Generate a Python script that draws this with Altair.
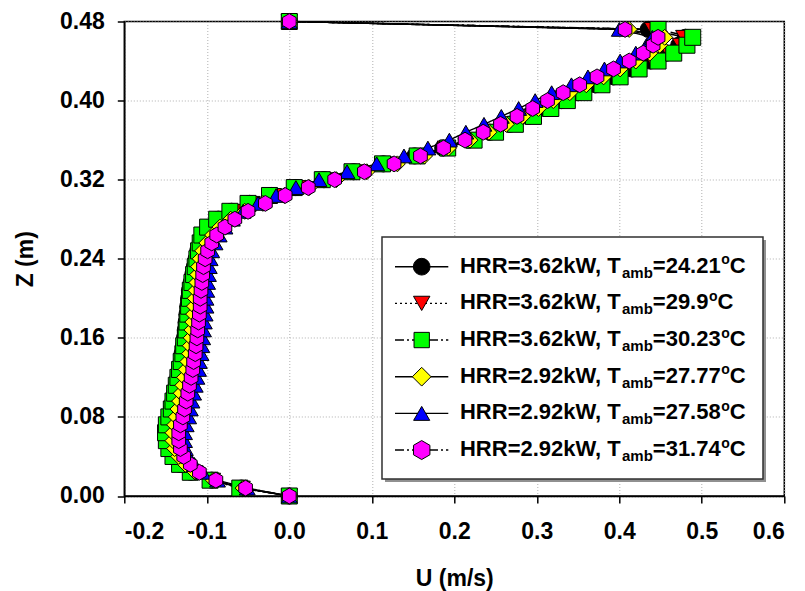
import altair as alt
import pandas as pd

# ---------------- data ----------------
Z = [0.000, 0.008, 0.016, 0.024, 0.032, 0.040, 0.048, 0.056, 0.064, 0.072,
     0.080, 0.088, 0.096, 0.104, 0.112, 0.120, 0.128, 0.136, 0.144, 0.152,
     0.160, 0.168, 0.176, 0.184, 0.192, 0.200, 0.208, 0.216, 0.224, 0.232,
     0.240, 0.248, 0.256, 0.264, 0.272, 0.280, 0.288, 0.296, 0.304, 0.312,
     0.320, 0.328, 0.336, 0.344, 0.352, 0.360, 0.368, 0.376, 0.384, 0.392,
     0.400, 0.408, 0.416, 0.424, 0.432, 0.440, 0.448, 0.456, 0.464, 0.472,
     0.480]

U_BLACK = [0.000, -0.058, -0.094, -0.119, -0.132, -0.140, -0.145, -0.148, -0.149, -0.148,
           -0.145, -0.143, -0.141, -0.139, -0.137, -0.135, -0.133, -0.131, -0.130, -0.128,
           -0.127, -0.126, -0.125, -0.124, -0.123, -0.122, -0.121, -0.119, -0.117, -0.115,
           -0.113, -0.111, -0.108, -0.104, -0.097, -0.086, -0.070, -0.048, -0.022, 0.008,
           0.042, 0.078, 0.114, 0.152, 0.186, 0.217, 0.243, 0.267, 0.289, 0.310,
           0.330, 0.350, 0.371, 0.393, 0.415, 0.437, 0.457, 0.472, 0.480, 0.435,
           0.000]

U_RED = [0.000, -0.057, -0.093, -0.117, -0.130, -0.138, -0.143, -0.146, -0.147, -0.146,
         -0.144, -0.141, -0.139, -0.137, -0.135, -0.133, -0.131, -0.129, -0.128, -0.126,
         -0.125, -0.124, -0.123, -0.122, -0.121, -0.120, -0.119, -0.117, -0.115, -0.113,
         -0.111, -0.109, -0.106, -0.101, -0.094, -0.083, -0.067, -0.045, -0.019, 0.011,
         0.045, 0.081, 0.117, 0.155, 0.189, 0.220, 0.246, 0.270, 0.292, 0.313,
         0.333, 0.353, 0.374, 0.396, 0.418, 0.440, 0.460, 0.474, 0.478, 0.440,
         0.000]

U_GREEN = [0.000, -0.060, -0.096, -0.120, -0.133, -0.141, -0.146, -0.149, -0.150, -0.149,
           -0.146, -0.143, -0.141, -0.139, -0.137, -0.135, -0.133, -0.131, -0.129, -0.128,
           -0.126, -0.125, -0.124, -0.123, -0.122, -0.121, -0.120, -0.118, -0.116, -0.114,
           -0.112, -0.110, -0.108, -0.106, -0.099, -0.088, -0.072, -0.050, -0.024, 0.006,
           0.040, 0.076, 0.113, 0.155, 0.192, 0.224, 0.250, 0.274, 0.296, 0.317,
           0.337, 0.357, 0.379, 0.401, 0.424, 0.447, 0.466, 0.482, 0.489, 0.447,
           0.000]

U_YELLOW = [0.000, -0.056, -0.092, -0.114, -0.126, -0.134, -0.139, -0.141, -0.141, -0.139,
            -0.137, -0.135, -0.133, -0.131, -0.129, -0.127, -0.125, -0.123, -0.121, -0.120,
            -0.119, -0.118, -0.117, -0.116, -0.115, -0.114, -0.113, -0.112, -0.111, -0.110,
            -0.108, -0.105, -0.100, -0.093, -0.084, -0.071, -0.054, -0.032, -0.006, 0.024,
            0.057, 0.094, 0.131, 0.164, 0.193, 0.219, 0.242, 0.263, 0.283, 0.302,
            0.320, 0.340, 0.360, 0.381, 0.401, 0.420, 0.437, 0.449, 0.455, 0.412,
            0.000]

U_BLUE = [0.000, -0.051, -0.087, -0.105, -0.115, -0.122, -0.126, -0.127, -0.127, -0.125,
          -0.122, -0.120, -0.118, -0.116, -0.114, -0.112, -0.110, -0.109, -0.107, -0.106,
          -0.105, -0.104, -0.103, -0.102, -0.101, -0.101, -0.100, -0.099, -0.098, -0.097,
          -0.096, -0.094, -0.090, -0.085, -0.078, -0.069, -0.056, -0.038, -0.016, 0.008,
          0.036, 0.070, 0.106, 0.139, 0.168, 0.194, 0.214, 0.236, 0.257, 0.278,
          0.298, 0.318, 0.342, 0.362, 0.382, 0.401, 0.420, 0.433, 0.440, 0.400,
          0.000]

U_PINK = [0.000, -0.053, -0.089, -0.109, -0.120, -0.128, -0.132, -0.134, -0.134, -0.132,
          -0.129, -0.127, -0.125, -0.123, -0.121, -0.119, -0.117, -0.116, -0.114, -0.113,
          -0.112, -0.111, -0.110, -0.109, -0.108, -0.108, -0.107, -0.106, -0.105, -0.104,
          -0.102, -0.099, -0.094, -0.088, -0.078, -0.066, -0.050, -0.029, -0.005, 0.023,
          0.055, 0.091, 0.127, 0.159, 0.187, 0.213, 0.235, 0.256, 0.276, 0.295,
          0.313, 0.332, 0.352, 0.373, 0.393, 0.412, 0.429, 0.441, 0.447, 0.407,
          0.000]

HRR = ["3.62", "3.62", "3.62", "2.92", "2.92", "2.92"]
TAMB = ["24.21", "29.9", "30.23", "27.77", "27.58", "31.74"]
U_ALL = [U_BLACK, U_RED, U_GREEN, U_YELLOW, U_BLUE, U_PINK]

X_TICKS = [-0.2, -0.1, 0.0, 0.1, 0.2, 0.3, 0.4, 0.5, 0.6]
Y_TICKS = [0.00, 0.08, 0.16, 0.24, 0.32, 0.40, 0.48]

# ---------------- styles ----------------
HEX = "M0,-1L0.866,-0.5L0.866,0.5L0,1L-0.866,0.5L-0.866,-0.5Z"
FILLS = ["#000000", "#ff0000", "#00ff00", "#ffff00", "#0000ff", "#ff00ff"]
SHAPES = ["circle", "triangle-down", "square", "diamond", "triangle-up", HEX]
SIZES = [260, 250, 215, 330, 240, 340]
DASHES = [[1, 0], [2, 3], [9, 3, 2, 3], [1, 0], [1, 0], [9, 3, 2, 3]]
FONT = "Liberation Sans"

names = [f"HRR={h}kW, Tamb={t}°C" for h, t in zip(HRR, TAMB)]

rows = []
for name, us in zip(names, U_ALL):
    for z, u in zip(Z, us):
        rows.append({"series": name, "u": u, "z": z})
df = pd.DataFrame(rows)

W, H = 660, 474.5
OX, OY = 124.3, 21.5  # page position of plot origin

xs = alt.Scale(domain=[-0.2, 0.6], nice=False, zero=False)
ys = alt.Scale(domain=[0, 0.48], nice=False, zero=False)

axis_common = dict(
    labelFont=FONT, labelFontWeight="bold", labelFontSize=23, labelColor="black",
    titleFont=FONT, titleFontWeight="bold", titleFontSize=23, titleColor="black",
    tickColor="black", tickWidth=1.5, tickSize=7,
    domainColor="black", domainWidth=1.5,
    grid=True, gridColor="#b0b0b0", gridDash=[1, 2], gridWidth=1,
)

x_axis = alt.Axis(
    values=X_TICKS,
    labelExpr="datum.value < -0.0001 ? '-' + format(-datum.value, '.1f') : format(abs(datum.value), '.1f')",
    labelPadding=18, title="U (m/s)", titleX=W / 2, titleY=90,
    titleBaseline="alphabetic", titleAlign="center", **axis_common)
y_axis = alt.Axis(
    values=Y_TICKS, format=".2f", labelPadding=13,
    title="Z (m)", titleAngle=270, titleX=-92, titleY=H / 2,
    titleAlign="center", titleBaseline="alphabetic", **axis_common)

lines = alt.Chart(df).mark_line(color="black", strokeWidth=1.4).encode(
    x=alt.X("u:Q", scale=xs, axis=x_axis),
    y=alt.Y("z:Q", scale=ys, axis=y_axis),
    detail="series:N",
    order=alt.Order("z:Q"),
    strokeDash=alt.StrokeDash("series:N", scale=alt.Scale(domain=names, range=DASHES), legend=None),
)

points = alt.Chart(df).mark_point(filled=True, stroke="black", strokeWidth=1, opacity=1).encode(
    x=alt.X("u:Q", scale=xs),
    y=alt.Y("z:Q", scale=ys),
    shape=alt.Shape("series:N", scale=alt.Scale(domain=names, range=SHAPES), legend=None),
    fill=alt.Fill("series:N", scale=alt.Scale(domain=names, range=FILLS), legend=None),
    size=alt.Size("series:O", scale=alt.Scale(domain=names, range=SIZES), legend=None),
)

# ---------------- manual legend (for subscript / superscript) ----------------
ARIAL_BOLD = {'H': 722, 'R': 722, '=': 584, '.': 278, 'k': 556, 'W': 944, ',': 278,
              ' ': 278, 'T': 611, 'a': 556, 'm': 889, 'b': 611, 'o': 611, 'C': 722}


def tw(s, f):
    return sum(ARIAL_BOLD.get(c, 556) for c in s) * f / 1000.0


dummy = pd.DataFrame({"d": [0]})
leg = []
BX0, BX1, BY0, BY1 = 382 - OX, 763 - OX, 237 - OY, 479 - OY
leg.append(alt.Chart(dummy).mark_rect(fill="#909090").encode(
    x=alt.value(BX0 + 3), x2=alt.value(BX1 + 3), y=alt.value(BY0 + 3), y2=alt.value(BY1 + 3)))
leg.append(alt.Chart(dummy).mark_rect(fill="white", stroke="#303030", strokeWidth=1.5).encode(
    x=alt.value(BX0), x2=alt.value(BX1), y=alt.value(BY0), y2=alt.value(BY1)))

F_MAIN, F_SUB, F_SUP = 22, 15, 14
for i in range(6):
    ry = 266.7 + 36.67 * i - OY
    leg.append(alt.Chart(dummy).mark_rule(color="black", strokeWidth=1.4, strokeDash=DASHES[i]).encode(
        x=alt.value(395 - OX), x2=alt.value(448.3 - OX), y=alt.value(ry)))
    leg.append(alt.Chart(dummy).mark_point(filled=True, stroke="black", strokeWidth=1, opacity=1,
                                           shape=SHAPES[i], fill=FILLS[i], size=SIZES[i] + 20).encode(
        x=alt.value(421.7 - OX), y=alt.value(ry)))
    pieces = []
    x0 = 460 - OX
    p1 = f"HRR={HRR[i]}kW, T"
    pieces.append((p1, x0, ry + 6, F_MAIN))
    x1 = x0 + tw(p1, F_MAIN)
    pieces.append(("amb", x1, ry + 11, F_SUB))
    x2 = x1 + tw("amb", F_SUB)
    p3 = f"={TAMB[i]}"
    pieces.append((p3, x2, ry + 6, F_MAIN))
    x3 = x2 + tw(p3, F_MAIN)
    pieces.append(("o", x3 + 0.5, ry - 2.5, F_SUP))
    x4 = x3 + tw("o", F_SUP) + 0.5
    pieces.append(("C", x4, ry + 6, F_MAIN))
    for txt, px, py, fs in pieces:
        leg.append(alt.Chart(dummy).mark_text(
            text=txt, font=FONT, fontWeight="bold", fontSize=fs, color="black",
            align="left", baseline="alphabetic").encode(x=alt.value(px), y=alt.value(py)))

chart = alt.layer(lines, points, *leg).properties(
    width=W, height=H,
    autosize=alt.AutoSizeParams(type="none"),
    padding={"left": OX - 8, "top": OY - 8, "right": 10, "bottom": 96},
).configure_view(stroke="black", strokeWidth=1.5)

chart.save("out.html", embed_options={"renderer": "svg", "actions": False})
